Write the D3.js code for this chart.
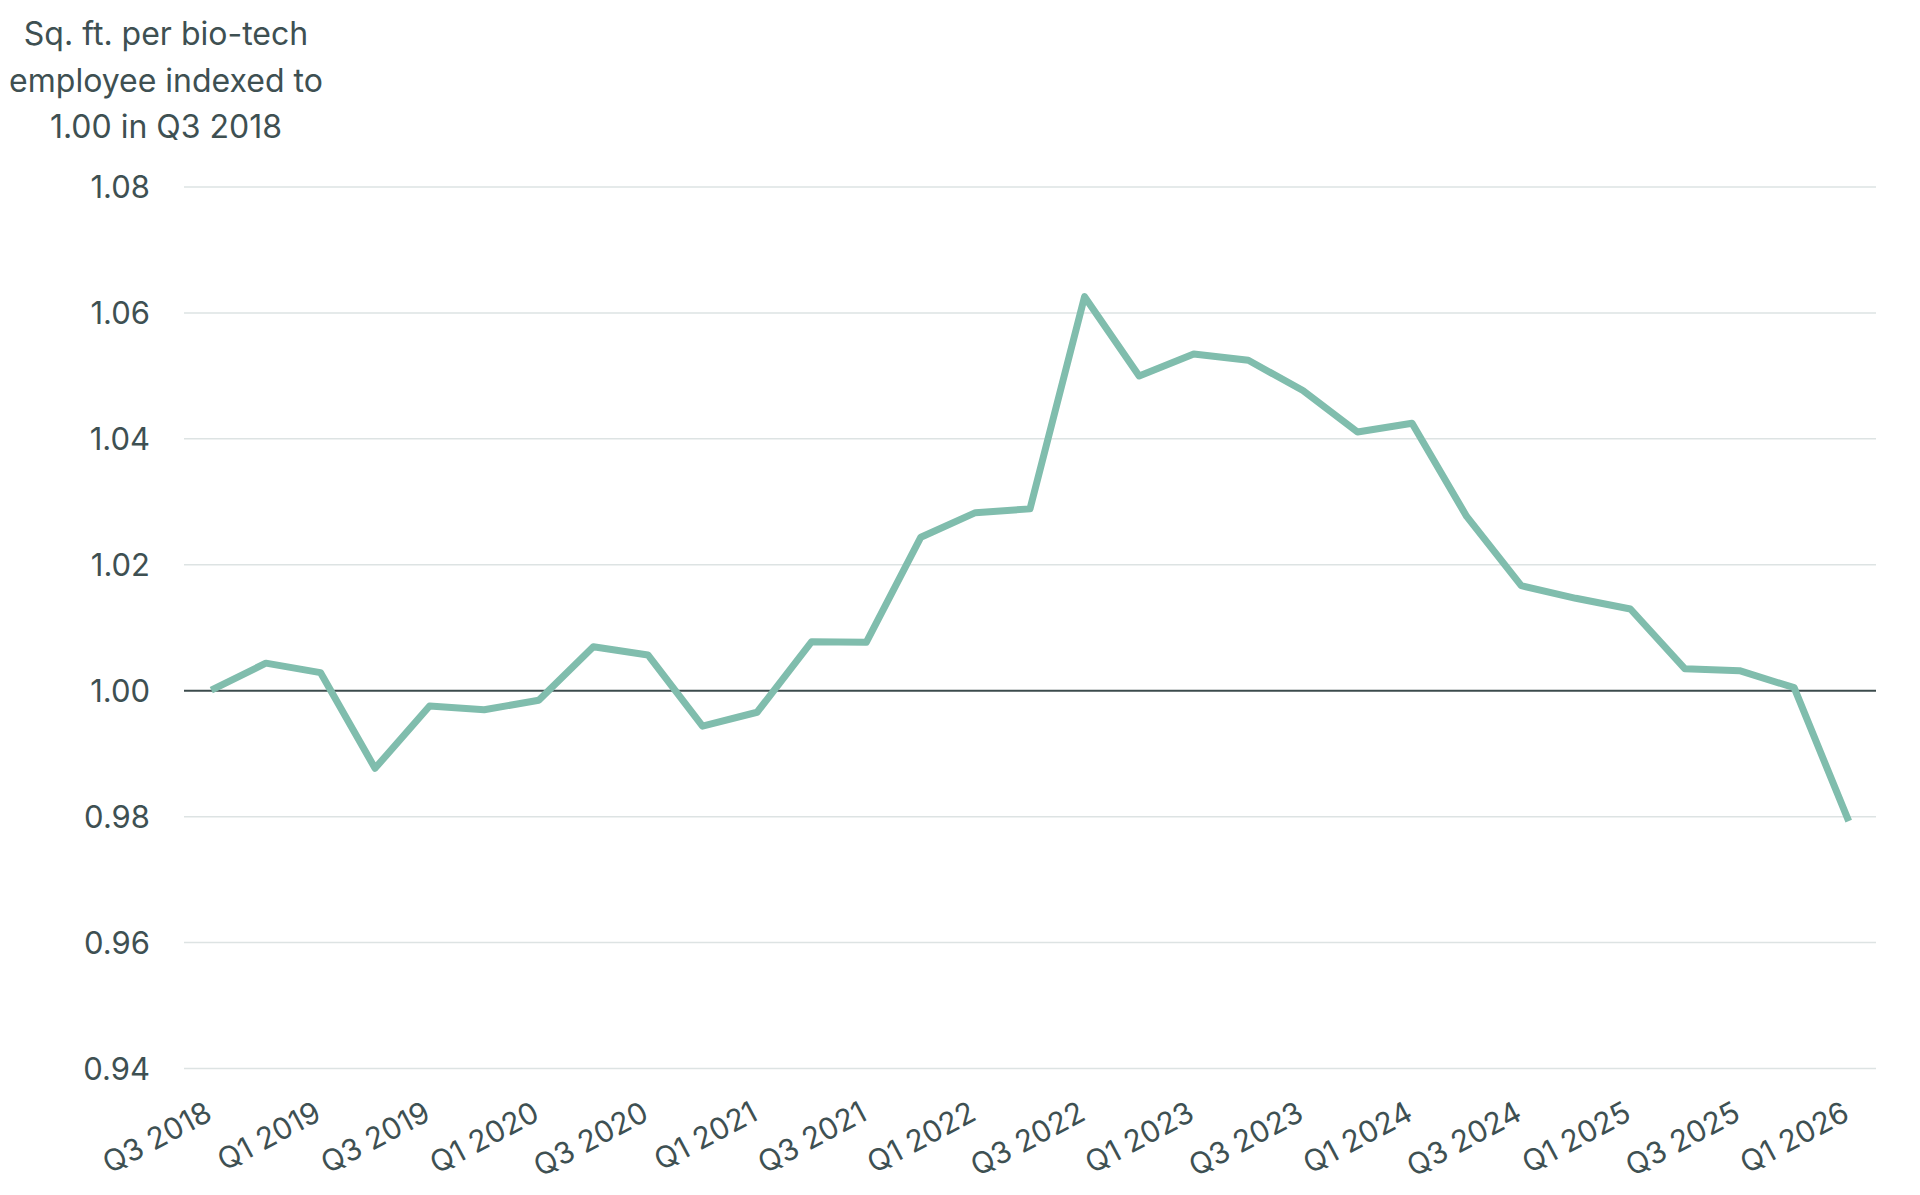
<!DOCTYPE html>
<html>
<head>
<meta charset="utf-8">
<script src="https://cdn.jsdelivr.net/npm/d3@7"></script>
<style>
  html, body { margin: 0; padding: 0; background: #fff; }
  svg text { font-family: Inter, "Noto Sans", sans-serif; fill: #3e5052; }
  .grid line { stroke: #dde3e3; stroke-width: 1.5; }
  .grid path { display: none; }
  .xaxis path, .xaxis line { display: none; }
</style>
</head>
<body>
<svg id="chart" width="1920" height="1195"></svg>
<script>
// quarters from Q3 2018 through Q1 2026
const quarters = [
  "Q3 2018", "Q4 2018",
  "Q1 2019", "Q2 2019", "Q3 2019", "Q4 2019",
  "Q1 2020", "Q2 2020", "Q3 2020", "Q4 2020",
  "Q1 2021", "Q2 2021", "Q3 2021", "Q4 2021",
  "Q1 2022", "Q2 2022", "Q3 2022", "Q4 2022",
  "Q1 2023", "Q2 2023", "Q3 2023", "Q4 2023",
  "Q1 2024", "Q2 2024", "Q3 2024", "Q4 2024",
  "Q1 2025", "Q2 2025", "Q3 2025", "Q4 2025",
  "Q1 2026"
];

// sq. ft. per employee, indexed
const sqftIndex = [
  1.0000, 1.0043,
  1.0028, 0.9876, 0.9975, 0.9969,
  0.9984, 1.0069, 1.0056, 0.9943,
  0.9965, 1.0077, 1.0076, 1.0243,
  1.0282, 1.0288, 1.0625, 1.0499,
  1.0534, 1.0524, 1.0476, 1.0410,
  1.0424, 1.0276, 1.0166, 1.0146,
  1.0129, 1.0034, 1.0031, 1.0004,
  0.9792
];

const xTickLabels = ["Q3 2018", "Q1 2019", "Q3 2019", "Q1 2020", "Q3 2020", "Q1 2021",
  "Q3 2021", "Q1 2022", "Q3 2022", "Q1 2023", "Q3 2023", "Q1 2024",
  "Q3 2024", "Q1 2025", "Q3 2025", "Q1 2026"];

const yTicks = [0.94, 0.96, 0.98, 1.00, 1.02, 1.04, 1.06, 1.08];

const titleLines = ["Sq. ft. per bio-tech", "employee indexed to", "1.00 in Q3 2018"];

let svg = d3.select('#chart');

let plotLeft = 184, plotRight = 1876, plotTop = 186.5, plotBottom = 1068;

let x = d3.scalePoint()
    .domain(quarters)
    .range([plotLeft, plotRight])
    .padding(0.5);

let y = d3.scaleLinear()
    .domain([0.94, 1.08])
    .range([plotBottom, plotTop]);

// gridlines + y labels
let yAxis = svg.append('g')
    .attr('class', 'grid')
    .attr('transform', `translate(${plotLeft},0)`)
    .call(d3.axisLeft(y)
        .tickValues(yTicks)
        .tickSize(-(plotRight - plotLeft))
        .tickPadding(34)
        .tickFormat(d3.format('.2f')));

yAxis.selectAll('text')
    .style('font-size', '31px')
    .attr('dy', '0.36em');

// baseline at 1.00 drawn darker
yAxis.selectAll('.tick')
    .filter(d => d === 1.00)
    .select('line')
    .style('stroke', '#3c4b4c')
    .style('stroke-width', 2);

// x labels
let xAxis = svg.append('g')
    .attr('class', 'xaxis')
    .attr('transform', `translate(0,${plotBottom})`)
    .call(d3.axisBottom(x)
        .tickValues(xTickLabels)
        .tickSize(0));

xAxis.selectAll('text')
    .style('font-size', '30px')
    .attr('text-anchor', 'end')
    .attr('dy', 0)
    .attr('y', 0)
    .attr('transform', 'translate(2,51) rotate(-28)');

// the series line
let line = d3.line()
    .x((d, i) => x(quarters[i]))
    .y(d => y(d));

svg.append('path')
    .datum(sqftIndex)
    .attr('fill', 'none')
    .attr('stroke', '#80bdad')
    .attr('stroke-width', 7)
    .attr('stroke-linejoin', 'round')
    .attr('d', line);

// axis title, top left
svg.append('text')
    .attr('text-anchor', 'middle')
    .style('font-size', '32px')
    .selectAll('tspan')
    .data(titleLines)
    .enter().append('tspan')
    .attr('x', 166)
    .attr('y', (d, i) => 45 + i * 46.7)
    .text(d => d);
</script>
</body>
</html>
